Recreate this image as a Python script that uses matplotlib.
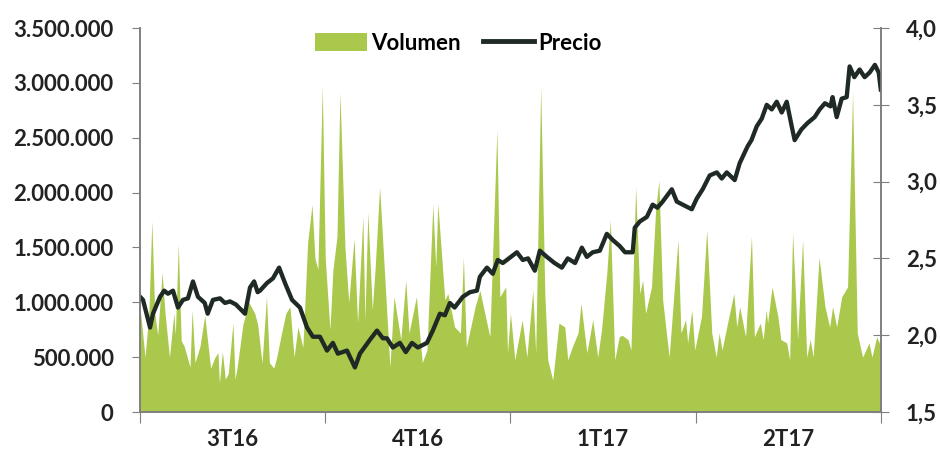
import matplotlib
matplotlib.use("Agg")
import matplotlib.pyplot as plt
from matplotlib.patches import Patch
from matplotlib.lines import Line2D
from matplotlib.ticker import FuncFormatter

plt.rcParams["font.family"] = ["Lato", "DejaVu Sans"]
plt.rcParams["font.weight"] = "bold"

# trading day index (0..252) and traded volume (shares)
vol_day = [0, 1.7, 3, 4, 5, 6, 7.5, 8.5, 10, 11.5, 12, 13, 14, 15, 17, 17.7, 18.7, 20.4,
           22, 24, 25.5, 26.5, 27, 28, 29, 30, 31.6, 32.3, 33, 35, 37, 39, 40, 41.5, 43,
           44, 45.5, 46.5, 48, 49.6, 51, 52.4, 53.7, 55.4, 57, 58.5, 59.5, 60.5, 62, 63,
           64.6, 65.6, 67, 68, 69.7, 71, 72.8, 74, 75.8, 76.5, 77.5, 79, 80, 81.5, 85,
           86.4, 88.7, 90.4, 91.5, 94, 96, 97.6, 99.6, 100.6, 101.3, 103.7, 104.7, 107,
           109, 110, 111, 114, 115.6, 119, 121.4, 122.4, 124.4, 125, 126, 127.5, 130,
           131.6, 133.6, 134.6, 136.3, 137.7, 138.7, 140.4, 142.5, 144.5, 145.5, 147, 149,
           150, 152, 154, 155.7, 157, 158.8, 160, 161.5, 163, 164, 166, 167, 168.6, 170,
           171, 172, 174, 175.4, 176.5, 177.8, 180, 183, 184, 185.6, 186.3, 187.7, 188.7,
           191, 192.8, 194.5, 196, 197, 198, 199.6, 202, 203, 204, 206, 208, 209, 211,
           212, 213, 213.5, 215, 217, 218, 220, 221, 222, 223.7, 225.4, 226.8, 228, 229,
           231, 233, 234.6, 235.6, 237, 238.7, 240.7, 242.4, 244, 245.8, 248, 249, 250.6,
           252]
vol = [950, 500, 900, 1740, 900, 700, 1270, 900, 500, 900, 700, 1530, 650, 600, 410, 930,
       450, 600, 880, 400, 500, 540, 265, 550, 300, 350, 810, 300, 400, 800, 1000, 900,
       800, 445, 1050, 450, 400, 500, 700, 900, 960, 500, 775, 590, 1540, 1890, 1400,
       1300, 2970, 1400, 750, 1290, 1600, 2910, 1500, 1000, 1580, 810, 1780, 840, 1820,
       930, 1320, 2050, 410, 1050, 660, 1200, 720, 1050, 450, 565, 1890, 1320, 1900,
       1020, 1080, 775, 720, 1410, 590, 960, 1110, 685, 2570, 1050, 1140, 540, 900, 475,
       840, 500, 1110, 540, 2960, 1080, 475, 290, 810, 775, 475, 590, 720, 990, 540, 840,
       500, 750, 1270, 1750, 475, 685, 700, 660, 565, 2050, 1080, 1200, 900, 1140, 1840,
       2110, 1020, 500, 1570, 720, 840, 630, 930, 565, 870, 1660, 720, 500, 720, 565, 775,
       1080, 775, 960, 685, 1600, 685, 810, 660, 930, 810, 1140, 870, 660, 630, 475, 1630,
       660, 1570, 500, 660, 500, 1410, 960, 775, 960, 775, 1050, 1140, 2910, 720, 500,
       630, 500, 685, 600]
vol = [v * 1000 for v in vol]

# share price (euros)
price_day = [0, 1, 3.4, 4.4, 6.8, 8.2, 9.5, 11.2, 12.9, 14.6, 16.3, 18, 19.7, 22, 23, 24.8,
             27.2, 28.9, 30.6, 32.6, 35.7, 37.4, 38.8, 40, 40.8, 43.2, 45.2, 47.3, 49.3,
             51.7, 54.4, 56.8, 58.8, 61.2, 63.6, 65.6, 67.3, 70.4, 73.1, 74.8, 78.2, 80.6,
             82.6, 84, 86, 88.4, 90.4, 92.5, 94.5, 97.6, 99.6, 102, 103.7, 105.4, 107,
             109.8, 112.2, 114.6, 115.6, 118, 120, 121.7, 123.4, 124.8, 128.2, 130.2, 132,
             134.3, 136, 138.4, 141, 143.5, 145.5, 148, 150.3, 152, 154, 156.4, 158.8,
             160.8, 163.2, 165, 167.6, 168.3, 170, 172.4, 174.4, 176, 177.8, 180.9, 182.6,
             184.6, 187.7, 189.4, 191.4, 193.8, 196.2, 197.9, 199.6, 202.3, 204, 206.7,
             208, 209.8, 211.5, 213.2, 214.9, 216.6, 218.3, 220, 221.7, 222.7, 225, 227,
             229.5, 231.2, 233, 234.9, 235.6, 237, 238.7, 240.4, 241.4, 243, 244.8, 246.5,
             248.2, 250, 251.3, 252]
price = [2.25, 2.23, 2.05, 2.14, 2.25, 2.29, 2.27, 2.29, 2.18, 2.23, 2.24, 2.35, 2.25, 2.21,
         2.14, 2.23, 2.24, 2.21, 2.22, 2.20, 2.14, 2.31, 2.35, 2.28, 2.29, 2.34, 2.37, 2.44,
         2.34, 2.23, 2.18, 2.05, 1.99, 1.99, 1.90, 1.95, 1.88, 1.90, 1.79, 1.88, 1.97, 2.03,
         1.98, 1.98, 1.92, 1.95, 1.89, 1.95, 1.92, 1.95, 2.03, 2.14, 2.13, 2.21, 2.18, 2.25,
         2.28, 2.29, 2.38, 2.44, 2.40, 2.49, 2.47, 2.49, 2.54, 2.49, 2.50, 2.42, 2.55, 2.51,
         2.47, 2.44, 2.50, 2.47, 2.57, 2.51, 2.54, 2.55, 2.66, 2.62, 2.58, 2.54, 2.54, 2.70,
         2.74, 2.77, 2.85, 2.83, 2.87, 2.95, 2.87, 2.85, 2.82, 2.89, 2.95, 3.04, 3.06, 3.02,
         3.06, 3.01, 3.12, 3.23, 3.27, 3.36, 3.41, 3.50, 3.47, 3.52, 3.45, 3.52, 3.36, 3.27,
         3.34, 3.38, 3.42, 3.47, 3.51, 3.49, 3.55, 3.42, 3.54, 3.55, 3.75, 3.68, 3.73, 3.68,
         3.71, 3.76, 3.71, 3.60]

quarter_edges = [0, 63, 126, 189, 252]
quarters = ["3T16", "4T16", "1T17", "2T17"]

green = "#a9c84c"
dark = "#1f2a25"
axis_grey = "#7f7f7f"
text_col = "#222222"

fig = plt.figure(figsize=(9.4, 4.49), dpi=100)
ax = fig.add_axes([0.149, 0.0824, 0.788, 0.8552])
ax2 = ax.twinx()

ax.fill_between(vol_day, vol, 0, color=green, linewidth=0)
ax2.plot(price_day, price, color=dark, linewidth=3.1, solid_joinstyle="round")

ax.set_xlim(0, 252)
ax.set_ylim(0, 3500000)
ax2.set_ylim(1.5, 4.0)
ax.set_yticks(range(0, 3500001, 500000))
ax2.set_yticks([1.5, 2.0, 2.5, 3.0, 3.5, 4.0])
ax.yaxis.set_major_formatter(FuncFormatter(lambda v, p: f"{int(v):,}".replace(",", ".")))
ax2.yaxis.set_major_formatter(FuncFormatter(lambda v, p: f"{v:.1f}".replace(".", ",")))

ax.set_xticks(quarter_edges)
ax.set_xticklabels([])
centers = [(a + b) / 2 for a, b in zip(quarter_edges[:-1], quarter_edges[1:])]
ax.set_xticks(centers, minor=True)
ax.set_xticklabels(quarters, minor=True)
ax.tick_params(axis="x", which="minor", length=0, pad=12, labelsize=16, colors=text_col)
ax.tick_params(axis="x", which="major", length=8, direction="out", color=axis_grey)
ax.tick_params(axis="y", length=6, direction="out", color=axis_grey, labelsize=16,
               labelcolor=text_col, pad=13)
ax2.tick_params(axis="y", length=12, direction="inout", color=axis_grey, labelsize=16,
                labelcolor=text_col, pad=12)

for a in (ax, ax2):
    a.spines["top"].set_visible(False)
    for s in ("left", "right", "bottom"):
        a.spines[s].set_color(axis_grey)
        a.spines[s].set_linewidth(1.2)

handles = [Patch(facecolor=green, edgecolor="none", label="Volumen"),
           Line2D([0], [0], color=dark, linewidth=3.5, label="Precio")]
ax.legend(handles=handles, loc="upper center", bbox_to_anchor=(0.43, 1.04), ncol=2,
          frameon=False, fontsize=16, handlelength=2.3, handleheight=0.9,
          columnspacing=1.0, handletextpad=0.2)

fig.savefig("out.png", dpi=100)
